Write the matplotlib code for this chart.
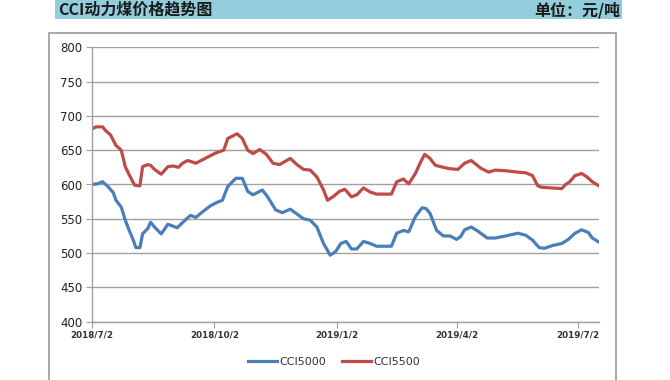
import numpy as np
import pandas as pd
import matplotlib
matplotlib.use('Agg')
import matplotlib.pyplot as plt
import matplotlib.dates as mdates
from matplotlib.patches import Rectangle
from matplotlib.lines import Line2D

plt.rcParams['font.family'] = ['DejaVu Sans', 'Noto Sans CJK SC']

# days since 2018/7/2
start = pd.Timestamp('2018-07-02')
cci5500_days = [0, 3, 8, 10, 14, 18, 22, 25, 28, 32, 36, 38, 42, 44, 47, 52, 57, 61, 65, 68,
                72, 78, 82, 87, 93, 99, 102, 109, 113, 117, 121, 126, 131, 136, 141, 149, 154,
                159, 164, 169, 174, 177, 181, 186, 190, 195, 199, 204, 209, 214, 225, 229, 234,
                238, 243, 247, 250, 254, 258, 264, 269, 275, 280, 285, 292, 298, 303, 311, 320,
                326, 331, 335, 338, 353, 356, 359, 363, 368, 372, 376, 381]
cci5500 = [681, 684, 684, 679, 672, 657, 650, 626, 614, 599, 598, 626, 629, 628, 622, 615, 626,
           627, 625, 631, 635, 631, 635, 640, 646, 650, 667, 674, 667, 650, 645, 651, 644, 631,
           629, 638, 629, 622, 621, 611, 592, 577, 582, 590, 593, 582, 585, 595, 589, 586, 586,
           604, 608, 601, 616, 633, 644, 638, 628, 625, 623, 622, 631, 635, 624, 618, 621, 620,
           618, 617, 613, 598, 596, 594, 600, 604, 613, 616, 611, 604, 598]

cci5000_days = [0, 4, 8, 12, 16, 18, 22, 25, 28, 31, 33, 36, 38, 42, 44, 47, 52, 57, 64, 70,
                74, 78, 83, 89, 94, 98, 102, 108, 113, 117, 121, 128, 132, 138, 143, 149, 154,
                159, 164, 169, 174, 179, 183, 187, 191, 195, 199, 204, 209, 214, 225, 229, 234,
                238, 243, 248, 251, 254, 259, 264, 269, 274, 277, 280, 285, 290, 297, 303, 311,
                320, 326, 331, 336, 340, 346, 353, 358, 363, 368, 373, 376, 381]
cci5000 = [600, 601, 604, 597, 588, 577, 567, 548, 533, 519, 508, 508, 528, 536, 545, 538, 528,
           542, 537, 548, 555, 552, 560, 569, 574, 577, 597, 609, 609, 590, 585, 592, 582, 563,
           559, 564, 557, 550, 548, 538, 514, 497, 502, 514, 517, 506, 506, 517, 514, 510, 510,
           529, 533, 531, 553, 566, 565, 558, 533, 525, 525, 520, 524, 534, 538, 532, 522, 522,
           525, 529, 526, 519, 508, 507, 511, 514, 520, 529, 534, 530, 522, 516]

tick_dates = ['2018-07-02', '2018-10-02', '2019-01-02', '2019-04-02', '2019-07-02']
tick_labels = ['2018/7/2', '2018/10/2', '2019/1/2', '2019/4/2', '2019/7/2']

W, H = 670, 380
fig = plt.figure(figsize=(W / 100, H / 100), dpi=100)

def fx(x):
    return x / W

def fy(y):
    return 1 - y / H

# header bar and titles
fig.patches.append(Rectangle((fx(55), fy(19)), fx(622) - fx(55), fy(0) - fy(19),
                             transform=fig.transFigure, facecolor='#92CDDC', edgecolor='none'))
fig.text(fx(58), fy(10), 'CCI动力煤价格趋势图', family=['Noto Sans CJK SC'], fontsize=11.5,
         fontweight='bold', color='#1a1a1a', va='center', ha='left')
fig.text(fx(620), fy(10), '单位：元/吨', family=['Noto Sans CJK SC'], fontsize=11.5,
         fontweight='bold', color='#1a1a1a', va='center', ha='right')

# chart frame
fig.patches.append(Rectangle((fx(49), fy(390)), fx(616) - fx(49), fy(33) - fy(390),
                             transform=fig.transFigure, facecolor='none', edgecolor='#9a9a9a',
                             linewidth=1.2))

ax = fig.add_axes([fx(92), fy(321.7), fx(599) - fx(92), fy(47.3) - fy(321.7)])

d1 = start + pd.to_timedelta(cci5000_days, unit='D')
d2 = start + pd.to_timedelta(cci5500_days, unit='D')
ax.plot(d1, cci5000, color='#4A7EBB', linewidth=2.3, solid_joinstyle='round')
ax.plot(d2, cci5500, color='#BE4B48', linewidth=2.3, solid_joinstyle='round')

ax.set_ylim(400, 800)
ax.set_yticks(np.arange(400, 801, 50))
ax.set_xlim(start, start + pd.Timedelta(days=381))
ax.set_xticks(pd.to_datetime(tick_dates))
ax.set_xticklabels(tick_labels)

ax.grid(axis='y', color='#a0a0a0', linewidth=1)
ax.set_axisbelow(True)
for s in ['top', 'right']:
    ax.spines[s].set_visible(False)
for s in ['left', 'bottom']:
    ax.spines[s].set_color('#a0a0a0')
    ax.spines[s].set_linewidth(1)
ax.tick_params(axis='y', length=4, color='#a0a0a0', labelsize=8.5, labelcolor='#222222', pad=3)
ax.tick_params(axis='x', length=4, color='#a0a0a0', labelsize=6.3, labelcolor='#333333', pad=2)
for t in ax.get_xticklabels():
    t.set_fontweight('bold')

handles = [Line2D([], [], color='#4A7EBB', linewidth=2.3),
           Line2D([], [], color='#BE4B48', linewidth=2.3)]
fig.legend(handles, ['CCI5000', 'CCI5500'], loc='center', bbox_to_anchor=(fx(334), fy(362)),
           ncol=2, frameon=False, fontsize=8, handlelength=2.6, handletextpad=0.2,
           columnspacing=1.4, labelcolor='#333333')

fig.savefig('out.png', dpi=100)
